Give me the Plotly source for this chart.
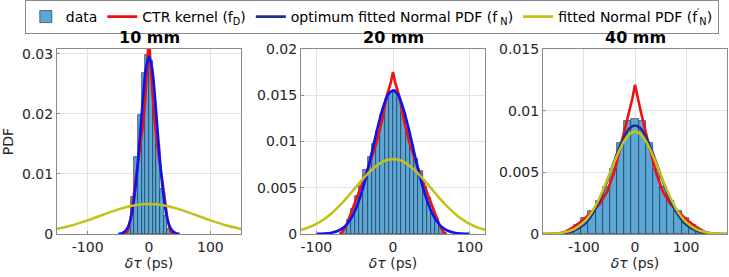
import plotly.graph_objects as go
from plotly.subplots import make_subplots

# ---------------- data ----------------
panel_titles = ["10 mm", "20 mm", "40 mm"]

# 10 mm
hist10_x = [-33, -27, -21, -15, -9, -3, 3, 9, 15, 21, 27, 33]
hist10_y = [0.0010, 0.0062, 0.0129, 0.0198, 0.0268, 0.0298, 0.0288, 0.0225, 0.0150, 0.0075, 0.0030, 0.0008]
hist10_w = 6
red10_x = [-40, -35, -30, -25, -20, -15, -10, -6, -3, 0, 3, 6, 10, 15, 20, 25, 30, 35, 40]
red10_y = [0, 0.0004, 0.0025, 0.0065, 0.0103, 0.0137, 0.018, 0.0225, 0.027, 0.0335,
           0.027, 0.0225, 0.018, 0.0137, 0.0103, 0.0065, 0.0025, 0.0004, 0]
blue10_x = [-50, -45, -40, -35, -30, -25, -20, -15, -10, -5, 0, 5, 10, 15, 20, 25, 30, 35, 40, 45, 50]
blue10_y = [0.00003, 0.0001, 0.00037, 0.001, 0.0025, 0.0053, 0.00985, 0.0159, 0.0224, 0.0276, 0.0295,
            0.0276, 0.0224, 0.0159, 0.00985, 0.0053, 0.0025, 0.001, 0.00037, 0.0001, 0.00003]
yel10_x = [-150, -125, -100, -75, -50, -25, 0, 25, 50, 75, 100, 125, 150]
yel10_y = [0.00085, 0.00146, 0.00227, 0.0032, 0.0041, 0.00476, 0.005, 0.00476, 0.0041, 0.0032, 0.00227, 0.00146, 0.00085]

# 20 mm
hist20_x = [-63.25, -57.75, -52.25, -46.75, -41.25, -35.75, -30.25, -24.75, -19.25, -13.75, -8.25, -2.75,
            2.75, 8.25, 13.75, 19.25, 24.75, 30.25, 35.75, 41.25, 46.75, 52.25, 57.75, 63.25]
hist20_y = [0.0006, 0.0015, 0.0027, 0.0041, 0.0052, 0.0069, 0.0083, 0.0097, 0.0111, 0.0129, 0.0146, 0.0154,
            0.0156, 0.0147, 0.0131, 0.0113, 0.0096, 0.0081, 0.0068, 0.0051, 0.0039, 0.0026, 0.0016, 0.0006]
hist20_w = 5.5
red20_x = [-70, -66, -61, -56, -50, -42, -30, -21, -14, -8, -3, 0, 3, 8, 14, 21, 30, 42, 50, 56, 61, 66, 70]
red20_y = [0, 0.0002, 0.0009, 0.002, 0.0033, 0.005, 0.0077, 0.0100, 0.0124, 0.015, 0.0163, 0.0175,
           0.0163, 0.015, 0.0124, 0.0100, 0.0077, 0.005, 0.0033, 0.002, 0.0009, 0.0002, 0]
blue20_x = [-100, -90, -80, -70, -65, -60, -55, -50, -45, -40, -35, -30, -25, -20, -15, -10, -5, 0,
            5, 10, 15, 20, 25, 30, 35, 40, 45, 50, 55, 60, 65, 70, 80, 90, 100]
blue20_y = [0.00001, 0.00004, 0.00014, 0.00041, 0.00068, 0.00108, 0.00165, 0.00244, 0.00347, 0.00475,
            0.00626, 0.00797, 0.00976, 0.01153, 0.01313, 0.0144, 0.01522, 0.0155,
            0.01522, 0.0144, 0.01313, 0.01153, 0.00976, 0.00797, 0.00626, 0.00475, 0.00347, 0.00244,
            0.00165, 0.00108, 0.00068, 0.00041, 0.00014, 0.00004, 0.00001]
yel20_x = [-120, -110, -100, -90, -80, -70, -60, -50, -40, -30, -20, -10, 0,
           10, 20, 30, 40, 50, 60, 70, 80, 90, 100, 110, 120]
yel20_y = [0.00045, 0.00072, 0.0011, 0.0016, 0.00225, 0.00304, 0.00394, 0.00491, 0.00588, 0.00677, 0.00748, 0.00794, 0.0081,
           0.00794, 0.00748, 0.00677, 0.00588, 0.00491, 0.00394, 0.00304, 0.00225, 0.0016, 0.0011, 0.00072, 0.00045]

# 40 mm
hist40_x = [-126, -112, -98, -84, -70, -56, -42, -28, -14, 0, 14, 28, 42, 56, 70, 84, 98, 112, 126]
hist40_y = [0.0003, 0.0007, 0.0013, 0.0019, 0.0027, 0.0038, 0.0053, 0.0074, 0.0092, 0.0093,
            0.0092, 0.0074, 0.0053, 0.0038, 0.0027, 0.0019, 0.0013, 0.0007, 0.0003]
hist40_w = 14
red40_x = [-150, -135, -125, -115, -100, -85, -70, -55, -41, -30, -20, -11, -5, 0,
           5, 11, 20, 30, 41, 55, 70, 85, 100, 115, 125, 135, 150]
red40_y = [0.00003, 0.0002, 0.00045, 0.0007, 0.0012, 0.0018, 0.0024, 0.0034, 0.0050, 0.0068, 0.0084, 0.0100, 0.0110, 0.0121,
           0.0110, 0.0100, 0.0084, 0.0068, 0.0050, 0.0034, 0.0024, 0.0018, 0.0012, 0.0007, 0.00045, 0.0002, 0.00003]
blue40_x = [-180, -160, -140, -120, -100, -90, -80, -70, -60, -50, -40, -30, -20, -10, 0,
            10, 20, 30, 40, 50, 60, 70, 80, 90, 100, 120, 140, 160, 180]
blue40_y = [0.000003, 0.000017, 0.000074, 0.00026, 0.00077, 0.00122, 0.00185, 0.00267, 0.00366, 0.00478,
            0.00596, 0.00707, 0.00798, 0.00859, 0.0088,
            0.00859, 0.00798, 0.00707, 0.00596, 0.00478, 0.00366, 0.00267, 0.00185, 0.00122, 0.00077,
            0.00026, 0.000074, 0.000017, 0.000003]
yel40_x = blue40_x
yel40_y = [0.0000075, 0.000033, 0.00012, 0.00037, 0.00096, 0.00144, 0.00208, 0.00288, 0.00381, 0.00484,
           0.00587, 0.00683, 0.00761, 0.00812, 0.0083,
           0.00812, 0.00761, 0.00683, 0.00587, 0.00484, 0.00381, 0.00288, 0.00208, 0.00144, 0.00096,
           0.00037, 0.00012, 0.000033, 0.0000075]

x_ranges = [[-150, 150], [-120, 120], [-180, 180]]
y_ranges = [[0, 0.0308], [0, 0.02], [0, 0.015]]
x_ticks = [-100, 0, 100]
x_ticktext = ["-100", "0", "100"]
y_ticks = [[0, 0.01, 0.02, 0.03], [0, 0.005, 0.01, 0.015, 0.02], [0, 0.005, 0.01, 0.015]]
y_ticktext = [["0", "0.01", "0.02", "0.03"], ["0", "0.005", "0.01", "0.015", "0.02"], ["0", "0.005", "0.01", "0.015"]]

# ---------------- styles ----------------
BAR = "#5ba7d6"
BAR_EDGE = "#22384f"
RED = "#ee1111"
BLUE = "#0a14f0"
NAVY = "#1f2e8c"
YEL = "#c2c21a"
FONT = "DejaVu Sans"
TXT = "#262626"
AX = "#8a8a8a"

fig = make_subplots(rows=1, cols=3)

panels = [
    (hist10_x, hist10_y, hist10_w, red10_x, red10_y, blue10_x, blue10_y, yel10_x, yel10_y, BLUE),
    (hist20_x, hist20_y, hist20_w, red20_x, red20_y, blue20_x, blue20_y, yel20_x, yel20_y, BLUE),
    (hist40_x, hist40_y, hist40_w, red40_x, red40_y, blue40_x, blue40_y, yel40_x, yel40_y, NAVY),
]

for i, (hx, hy, hw, rx, ry, bx, by, yx, yy, bcol) in enumerate(panels):
    col = i + 1
    leg = (i == 2)
    fig.add_trace(go.Bar(x=hx, y=hy, width=hw, marker=dict(color=BAR, line=dict(color=BAR_EDGE, width=0.7)),
                         name="data", showlegend=leg), row=1, col=col)
    fig.add_trace(go.Scatter(x=rx, y=ry, mode="lines", line=dict(color=RED, width=2.6),
                             name="CTR kernel (f<sub>D</sub>)", showlegend=leg), row=1, col=col)
    fig.add_trace(go.Scatter(x=bx, y=by, mode="lines", line=dict(color=bcol, width=2.6, shape="spline"),
                             name="optimum fitted Normal PDF (f<sub> N</sub>)", showlegend=leg), row=1, col=col)
    fig.add_trace(go.Scatter(x=yx, y=yy, mode="lines", line=dict(color=YEL, width=2.6, shape="spline"),
                             name="fitted Normal PDF (f<sup>′</sup><sub>N</sub>)", showlegend=leg), row=1, col=col)

x_domains = [[57 / 729, 241 / 729], [301 / 729, 485 / 729], [543 / 729, 727 / 729]]
y_domain = [1 - 234 / 277, 1 - 49 / 277]

for i in range(3):
    xa = "xaxis" if i == 0 else f"xaxis{i+1}"
    ya = "yaxis" if i == 0 else f"yaxis{i+1}"
    fig.layout[xa].update(domain=x_domains[i], range=x_ranges[i], tickvals=x_ticks,
                          ticktext=x_ticktext, automargin=False,
                          showgrid=True, gridcolor="#e3e3e3", gridwidth=1, zeroline=False,
                          showline=True, linecolor=AX, linewidth=1, mirror=True,
                          ticks="inside", ticklen=3, tickcolor=AX,
                          tickfont=dict(family=FONT, size=14, color=TXT),
                          title=dict(text="<i>δτ</i> (ps)", font=dict(family=FONT, size=14, color=TXT), standoff=4))
    fig.layout[ya].update(domain=y_domain, range=y_ranges[i], tickvals=y_ticks[i], ticktext=y_ticktext[i],
                          automargin=False,
                          showgrid=True, gridcolor="#e3e3e3", gridwidth=1, zeroline=False,
                          showline=True, linecolor=AX, linewidth=1, mirror=True,
                          ticks="inside", ticklen=3, tickcolor=AX,
                          tickfont=dict(family=FONT, size=14, color=TXT))
    fig.add_annotation(text="<b>" + panel_titles[i] + "</b>", xref="paper", yref="paper",
                       x=(x_domains[i][0] + x_domains[i][1]) / 2, y=1 - 38 / 277,
                       xanchor="center", yanchor="middle", showarrow=False,
                       font=dict(family=FONT, size=16, color="#000000"))

fig.layout.yaxis.update(title=dict(text="PDF", font=dict(family=FONT, size=14, color=TXT), standoff=6))

fig.update_layout(
    width=729, height=277,
    margin=dict(l=0, r=0, t=0, b=0, autoexpand=False),
    paper_bgcolor="white", plot_bgcolor="white",
    barmode="overlay", bargap=0,
    font=dict(family=FONT, size=14, color=TXT),
    legend=dict(orientation="h", xref="container", yref="container",
                x=0.51, xanchor="center", y=1.0, yanchor="top",
                bordercolor=AX, borderwidth=1, bgcolor="white",
                font=dict(family=FONT, size=14, color="#000000"),
                itemwidth=30, tracegroupgap=0),
)

fig.write_html("out.html",
               config={"displayModeBar": False},
               post_script="document.body.style.margin='0';document.body.style.padding='0';"
                           "document.documentElement.style.overflow='hidden';")
